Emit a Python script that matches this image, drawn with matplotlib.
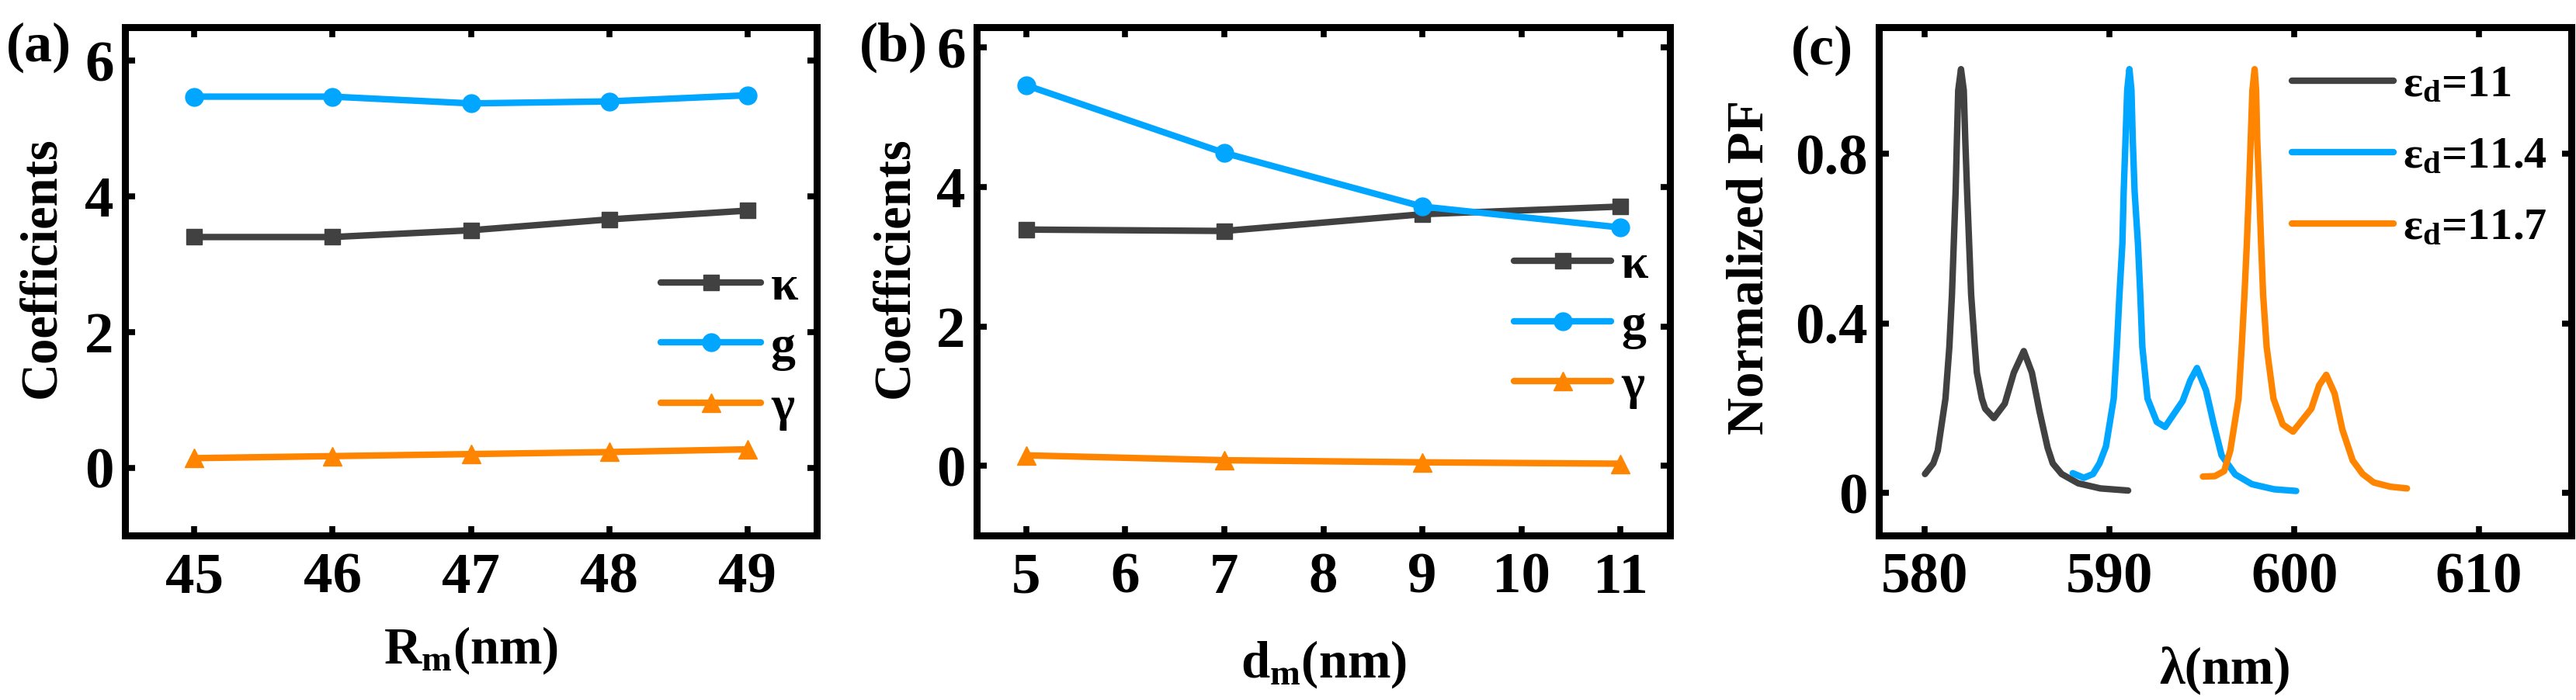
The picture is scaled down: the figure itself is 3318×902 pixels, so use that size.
import matplotlib
matplotlib.use("Agg")
import matplotlib.pyplot as plt

plt.rcParams["font.family"] = ["Liberation Serif", "DejaVu Serif"]
plt.rcParams["font.weight"] = "bold"
plt.rcParams["mathtext.fontset"] = "custom"
plt.rcParams["mathtext.rm"] = "Liberation Serif:bold"
plt.rcParams["mathtext.it"] = "Liberation Serif:bold"
plt.rcParams["mathtext.bf"] = "Liberation Serif:bold"
plt.rcParams["lines.solid_capstyle"] = "round"
plt.rcParams["lines.solid_joinstyle"] = "round"

# panel (a): coefficients vs R_m
r_m = [45, 46, 47, 48, 49]
kappa_a = [3.40, 3.40, 3.50, 3.66, 3.79]
g_a = [5.47, 5.47, 5.37, 5.40, 5.49]
gamma_a = [0.14, 0.17, 0.20, 0.23, 0.27]

# panel (b): coefficients vs d_m
d_m = [5, 7, 9, 11]
kappa_b = [3.39, 3.37, 3.61, 3.72]
g_b = [5.46, 4.49, 3.72, 3.42]
gamma_b = [0.15, 0.08, 0.05, 0.03]

# panel (c): normalized Purcell factor spectra
lam_11 = [580.0, 580.45, 580.69, 581.11, 581.32, 581.46, 581.56, 581.66,
          581.73, 581.8, 581.95, 582.1, 582.18, 582.28, 582.39, 582.5, 582.7,
          582.81, 583.08, 583.26, 583.73, 584.32, 584.81, 585.35, 585.79,
          586.2, 586.64, 586.92, 587.4, 588.3, 589.5, 591.0]
pf_11 = [0.045, 0.07, 0.10, 0.223, 0.345, 0.468, 0.59, 0.712,
         0.835, 0.95, 1.0, 0.95, 0.835, 0.712, 0.59, 0.468, 0.345,
         0.284, 0.223, 0.199, 0.177, 0.211, 0.284, 0.335, 0.284,
         0.193, 0.107, 0.07, 0.045, 0.023, 0.011, 0.006]
lam_114 = [588.0, 588.6, 589.1, 589.45, 589.8, 590.22, 590.39, 590.53,
           590.69, 590.76, 590.86, 590.95, 591.07, 591.18, 591.25, 591.35,
           591.53, 591.66, 591.77, 592.05, 592.55, 593.0, 593.95, 594.37,
           594.73, 595.22, 595.64, 596.06, 596.8, 597.7, 598.9, 600.1]
pf_114 = [0.047, 0.036, 0.045, 0.07, 0.11, 0.223, 0.345, 0.468,
          0.59, 0.712, 0.835, 0.95, 1.0, 0.95, 0.835, 0.712,
          0.59, 0.468, 0.345, 0.223, 0.168, 0.156, 0.217, 0.266,
          0.295, 0.242, 0.162, 0.089, 0.044, 0.021, 0.009, 0.005]
lam_117 = [595.05, 595.7, 596.2, 596.53, 596.98, 597.15, 597.3, 597.43,
           597.54, 597.64, 597.73, 597.85, 597.93, 597.99, 598.1, 598.2,
           598.31, 598.5, 598.87, 599.37, 599.93, 600.92, 601.34, 601.73,
           602.18, 602.6, 603.16, 603.7, 604.3, 605.2, 606.1]
pf_117 = [0.039, 0.04, 0.052, 0.10, 0.223, 0.345, 0.468, 0.59,
          0.712, 0.835, 0.95, 1.0, 0.95, 0.835, 0.712, 0.59,
          0.468, 0.345, 0.223, 0.162, 0.145, 0.199, 0.254, 0.279,
          0.235, 0.15, 0.077, 0.045, 0.025, 0.015, 0.011]

c_black = "#414141"
c_blue = "#00a6ff"
c_orange = "#ff8400"

W, H = 3318, 902
fig = plt.figure(figsize=(W / 100, H / 100), dpi=100)


def make_axes(left_px, right_px):
    return fig.add_axes([left_px / W, 1 - 690 / H,
                         (right_px - left_px) / W, 655.5 / H])


def style_axes(ax):
    for sp in ax.spines.values():
        sp.set_linewidth(6.5)
    ax.tick_params(direction="in", length=9, width=5.5, top=True, right=True,
                   labelsize=54)
    ax.tick_params(axis="x", pad=15.5)
    ax.tick_params(axis="y", pad=10.5)


def fit_legend(ax, rows_px, x_px, fs, hl, htp):
    # place legend so that the handle lines sit at the wanted pixel rows
    fs_px = fs * 100 / 72
    ls = 0.3
    anc_x, anc_y = x_px, rows_px[0] - 30
    want = (rows_px[-1] - rows_px[0]) / (len(rows_px) - 1)
    for _ in range(4):
        leg = ax.legend(loc="upper left", bbox_to_anchor=(anc_x / W, 1 - anc_y / H),
                        bbox_transform=fig.transFigure, frameon=False,
                        fontsize=fs, handlelength=hl, handletextpad=htp,
                        labelspacing=ls, borderpad=0, borderaxespad=0)
        fig.canvas.draw()
        pts = [h.get_transform().transform(h.get_xydata())
               for h in leg.legend_handles]
        ys = [H - p[:, 1].mean() for p in pts]
        x0 = pts[0][:, 0].min()
        pitch = (ys[-1] - ys[0]) / (len(ys) - 1)
        ls += (want - pitch) / fs_px
        anc_x += x_px - x0
        anc_y += rows_px[0] - ys[0]
    return leg


ax_a = make_axes(161, 1052)
ax_b = make_axes(1258, 2151)
ax_c = make_axes(2420, 3312)

lw = 6
for ax, x, k, g, gm in [(ax_a, r_m, kappa_a, g_a, gamma_a),
                        (ax_b, d_m, kappa_b, g_b, gamma_b)]:
    ax.plot(x, k, color=c_black, lw=lw, marker="s", ms=15, label="κ")
    ax.plot(x, g, color=c_blue, lw=lw, marker="o", ms=16.5, label="g")
    ax.plot(x, gm, color=c_orange, lw=lw, marker="^", ms=17, label="γ")
    style_axes(ax)
    ax.set_yticks([0, 2, 4, 6])
    ax.set_ylabel("Coefficients", fontsize=48, fontweight="bold")

ax_a.set_xlim(44.5, 49.5)
ax_a.set_ylim(-1, 6.5)
ax_a.set_xticks(r_m)
ax_a.yaxis.set_label_coords(-0.086, 0.527)
ax_a.set_xlabel(r"R$_{\mathrm{m}}$(nm)", fontsize=48, fontweight="bold")
ax_a.xaxis.set_label_coords(0.5, -0.175)

ax_b.set_xlim(4.5, 11.5)
ax_b.set_ylim(-1, 6.3)
ax_b.set_xticks(range(5, 12))
ax_b.yaxis.set_label_coords(-0.0835, 0.527)
ax_b.set_xlabel(r"d$_{\mathrm{m}}$(nm)", fontsize=48, fontweight="bold")
ax_b.xaxis.set_label_coords(0.5, -0.203)

ax_c.plot(lam_11, pf_11, color=c_black, lw=lw, label=r"ε$_{\mathrm{d}}$=11")
ax_c.plot(lam_114, pf_114, color=c_blue, lw=lw, label=r"ε$_{\mathrm{d}}$=11.4")
ax_c.plot(lam_117, pf_117, color=c_orange, lw=lw, label=r"ε$_{\mathrm{d}}$=11.7")
style_axes(ax_c)
ax_c.set_xlim(577.5, 615)
ax_c.set_ylim(-0.1, 1.1)
ax_c.set_xticks([580, 590, 600, 610])
ax_c.set_yticks([0, 0.4, 0.8])
ax_c.set_yticklabels(["0", "0.4", "0.8"])
ax_c.set_ylabel("Normalized PF", fontsize=48, fontweight="bold")
ax_c.yaxis.set_label_coords(-0.152, 0.527)
ax_c.set_xlabel("λ(nm)", fontsize=48, fontweight="bold")
ax_c.xaxis.set_label_coords(0.5, -0.218)

for txt, x, y in [("(a)", 8, 29), ("(b)", 1107, 29), ("(c)", 2307, 33)]:
    fig.text(x / W, 1 - y / H, txt, fontsize=52, fontweight="bold",
             ha="left", va="top")

fit_legend(ax_a, [364, 439, 519], 851, 46, 2.02, 0.2)
fit_legend(ax_b, [336, 411, 491], 1950, 46, 1.96, 0.2)
fit_legend(ax_c, [104, 196, 288], 2952, 42, 2.25, 0.2)

fig.savefig("out.png", dpi=100)
